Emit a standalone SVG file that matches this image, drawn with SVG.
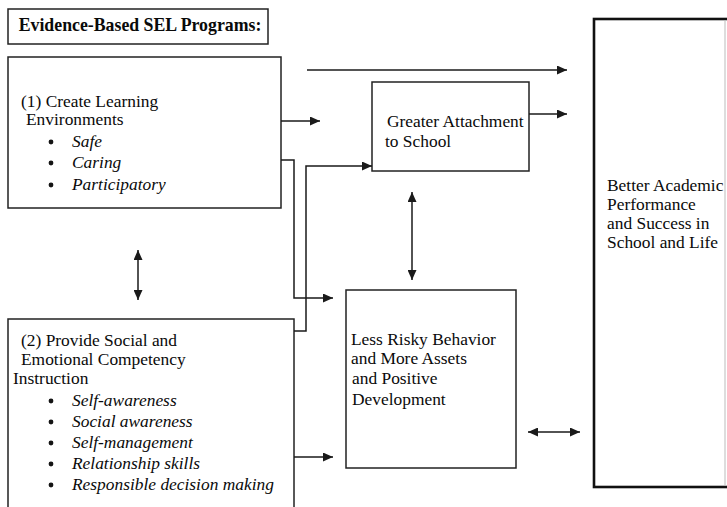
<svg xmlns="http://www.w3.org/2000/svg" width="727" height="507" viewBox="0 0 727 507">
<defs>
<marker id="ah" viewBox="0 0 10 9" markerWidth="10" markerHeight="9" refX="10" refY="4.5" orient="auto-start-reverse" markerUnits="userSpaceOnUse">
<path d="M0,0 L10,4.5 L0,9 z" fill="#1a1a1a"/>
</marker>
</defs>
<style>
text{font-family:"Liberation Serif","Times New Roman",serif;font-size:17.4px;fill:#0a0a0a}
.b{font-weight:bold;font-size:17.8px}
.i{font-style:italic}
.box{fill:#fff;stroke:#222;stroke-width:1.5}
.big{fill:#fff;stroke:#111;stroke-width:2.6}
.c{fill:none;stroke:#1a1a1a;stroke-width:1.5}
.dot{fill:#141414}
</style>
<rect width="727" height="507" fill="#fff"/>

<g id="title">
<rect class="box" x="8" y="9" width="260" height="35"/>
<text class="b" x="140" y="31" text-anchor="middle">Evidence-Based SEL Programs:</text>
</g>

<g id="box1">
<rect class="box" x="8" y="57" width="273" height="151"/>
<text x="21" y="107">(1) Create Learning</text>
<text x="26" y="125">Environments</text>
<circle class="dot" cx="51" cy="142" r="2.4"/>
<text class="i" x="72" y="147">Safe</text>
<circle class="dot" cx="51" cy="163" r="2.4"/>
<text class="i" x="72" y="168">Caring</text>
<circle class="dot" cx="51" cy="185" r="2.4"/>
<text class="i" x="72" y="190">Participatory</text>
</g>

<g id="box2">
<rect class="box" x="8" y="319" width="286" height="200"/>
<text x="21" y="346">(2) Provide Social and</text>
<text x="21" y="365">Emotional Competency</text>
<text x="13" y="384">Instruction</text>
<circle class="dot" cx="51" cy="401" r="2.4"/>
<text class="i" x="72" y="406">Self-awareness</text>
<circle class="dot" cx="51" cy="422" r="2.4"/>
<text class="i" x="72" y="427">Social awareness</text>
<circle class="dot" cx="51" cy="443" r="2.4"/>
<text class="i" x="72" y="448">Self-management</text>
<circle class="dot" cx="51" cy="464" r="2.4"/>
<text class="i" x="72" y="469">Relationship skills</text>
<circle class="dot" cx="51" cy="485" r="2.4"/>
<text class="i" x="72" y="490">Responsible decision making</text>
</g>

<g id="attachment">
<rect class="box" x="372" y="82" width="157" height="89"/>
<text x="387" y="127">Greater Attachment</text>
<text x="385" y="147">to School</text>
</g>

<g id="behavior">
<rect class="box" x="346" y="290" width="170" height="178"/>
<text x="351" y="345">Less Risky Behavior</text>
<text x="351" y="364">and More Assets</text>
<text x="352" y="384">and Positive</text>
<text x="352" y="405">Development</text>
</g>

<g id="outcome">
<rect class="big" x="594" y="19" width="140" height="468"/>
<line x1="725" y1="20" x2="725" y2="486" stroke="#bbb" stroke-width="1"/>
<text x="607" y="191">Better Academic</text>
<text x="607" y="210">Performance</text>
<text x="607" y="229">and Success in</text>
<text x="607" y="248">School and Life</text>
</g>

<g id="connectors">
<line class="c" x1="307" y1="70" x2="567" y2="70" marker-end="url(#ah)"/>
<line class="c" x1="281" y1="121" x2="320" y2="121" marker-end="url(#ah)"/>
<line class="c" x1="529" y1="114" x2="567" y2="114" marker-end="url(#ah)"/>
<path class="c" d="M281,160 H294 V298 H333" marker-end="url(#ah)"/>
<path class="c" d="M294,331 H306 V166 H372" marker-end="url(#ah)"/>
<line class="c" x1="294" y1="457" x2="333" y2="457" marker-end="url(#ah)"/>
<line class="c" x1="138" y1="250" x2="138" y2="300" marker-start="url(#ah)" marker-end="url(#ah)"/>
<line class="c" x1="412" y1="192" x2="412" y2="280" marker-start="url(#ah)" marker-end="url(#ah)"/>
<line class="c" x1="528" y1="432" x2="580" y2="432" marker-start="url(#ah)" marker-end="url(#ah)"/>
</g>
</svg>
